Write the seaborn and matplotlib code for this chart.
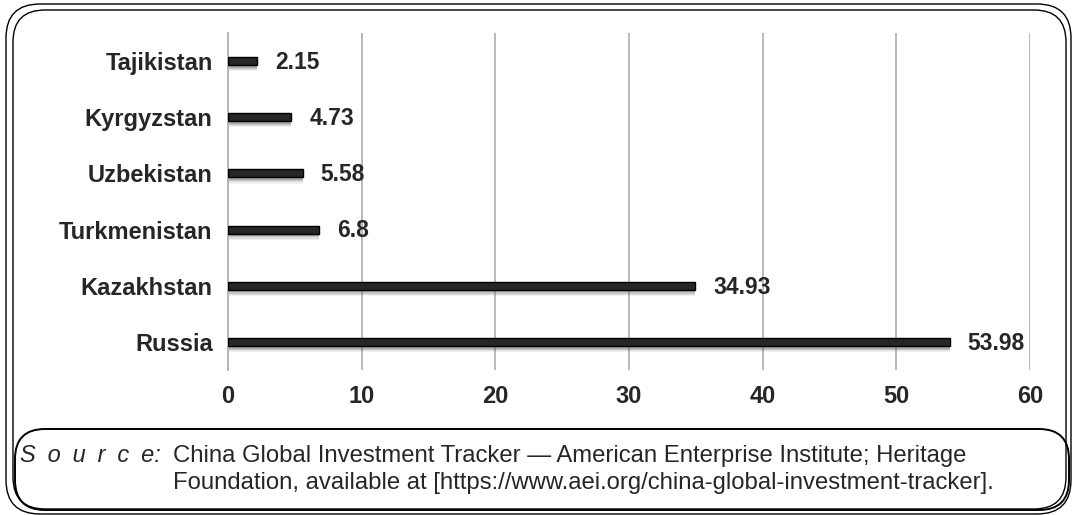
import matplotlib
matplotlib.use("Agg")
import matplotlib.pyplot as plt
import seaborn as sns
import numpy as np
import pandas as pd
from matplotlib.patches import FancyBboxPatch

countries = ["Tajikistan", "Kyrgyzstan", "Uzbekistan", "Turkmenistan", "Kazakhstan", "Russia"]
values = [2.15, 4.73, 5.58, 6.8, 34.93, 53.98]
value_labels = ["2.15", "4.73", "5.58", "6.8", "34.93", "53.98"]
x_ticks = [0, 10, 20, 30, 40, 50, 60]
source_label = "S\u2002o\u2002u\u2002r\u2002c\u2002e:"
source_line1 = "China Global Investment Tracker \u2014 American Enterprise Institute; Heritage"
source_line2 = "Foundation, available at [https://www.aei.org/china-global-investment-tracker]."

sns.set_style("white")
plt.rcParams['font.family'] = ['Liberation Sans', 'DejaVu Sans']

df = pd.DataFrame({"country": countries, "value": values})

FS = 17

fig = plt.figure(figsize=(10.73, 5.15), dpi=100)
ax = fig.add_axes([228/1073, 1-370/515, (1030-228)/1073, (370-33)/515])

# shadows under bars
pos = np.arange(len(countries))
for off, a in [(0.11, 0.08), (0.09, 0.12), (0.07, 0.18), (0.05, 0.25)]:
    ax.barh(pos + off, values, height=0.14, color="#555555", alpha=a, linewidth=0, zorder=2)

sns.barplot(data=df, y="country", x="value", orient="h", width=0.14,
            color="#262626", edgecolor="black", linewidth=1.0, saturation=1, ax=ax, zorder=3)

ax.set_xlim(0, 60)
ax.set_ylim(len(countries) - 0.5, -0.5)
ax.set_xticks(x_ticks)
ax.set_xticklabels([str(t) for t in x_ticks], fontsize=FS, fontweight="bold")
ax.set_yticks(pos)
ax.set_yticklabels(countries, fontsize=FS, fontweight="bold")
ax.tick_params(axis="both", length=0)
ax.tick_params(axis="y", pad=11)
ax.tick_params(axis="x", pad=11)
ax.set_xlabel("")
ax.set_ylabel("")
ax.xaxis.grid(True, color="#b3b3b3", linewidth=1.3, zorder=0)
ax.yaxis.grid(False)
ax.set_axisbelow(True)
for s in ["top", "right", "bottom"]:
    ax.spines[s].set_visible(False)
ax.spines["left"].set_color("#b3b3b3")
ax.spines["left"].set_linewidth(1.3)

for i, (v, lab) in enumerate(zip(values, value_labels)):
    ax.annotate(lab, xy=(v, i), xytext=(13, -1), textcoords="offset points",
                va="center", ha="left", fontsize=FS - 0.5, fontweight="bold", zorder=4)

# frames (pixel coords converted to inches)
def rect(x0, y0top, x1, y1top, r, lw):
    x = x0 / 100
    y = (515 - y1top) / 100
    w = (x1 - x0) / 100
    h = (y1top - y0top) / 100
    p = FancyBboxPatch((x + r, y + r), w - 2 * r, h - 2 * r,
                       boxstyle=f"round,pad={r},rounding_size={r}",
                       transform=fig.dpi_scale_trans, fill=False,
                       edgecolor="black", linewidth=lw)
    fig.patches.append(p)

rect(6, 4, 1071, 514, 0.34, 1.0)
rect(13, 10, 1066, 509, 0.32, 1.0)
rect(15, 429, 1069, 510, 0.30, 1.4)

fig.text(20/1073, 1 - 456/515, source_label, fontsize=FS, fontstyle="italic",
         va="center", ha="left")
fig.text(173/1073, 1 - 456/515, source_line1, fontsize=FS + 0.2, va="center", ha="left")
fig.text(173/1073, 1 - 483/515, source_line2, fontsize=FS + 0.2, va="center", ha="left")

fig.savefig("out.png", dpi=100)
